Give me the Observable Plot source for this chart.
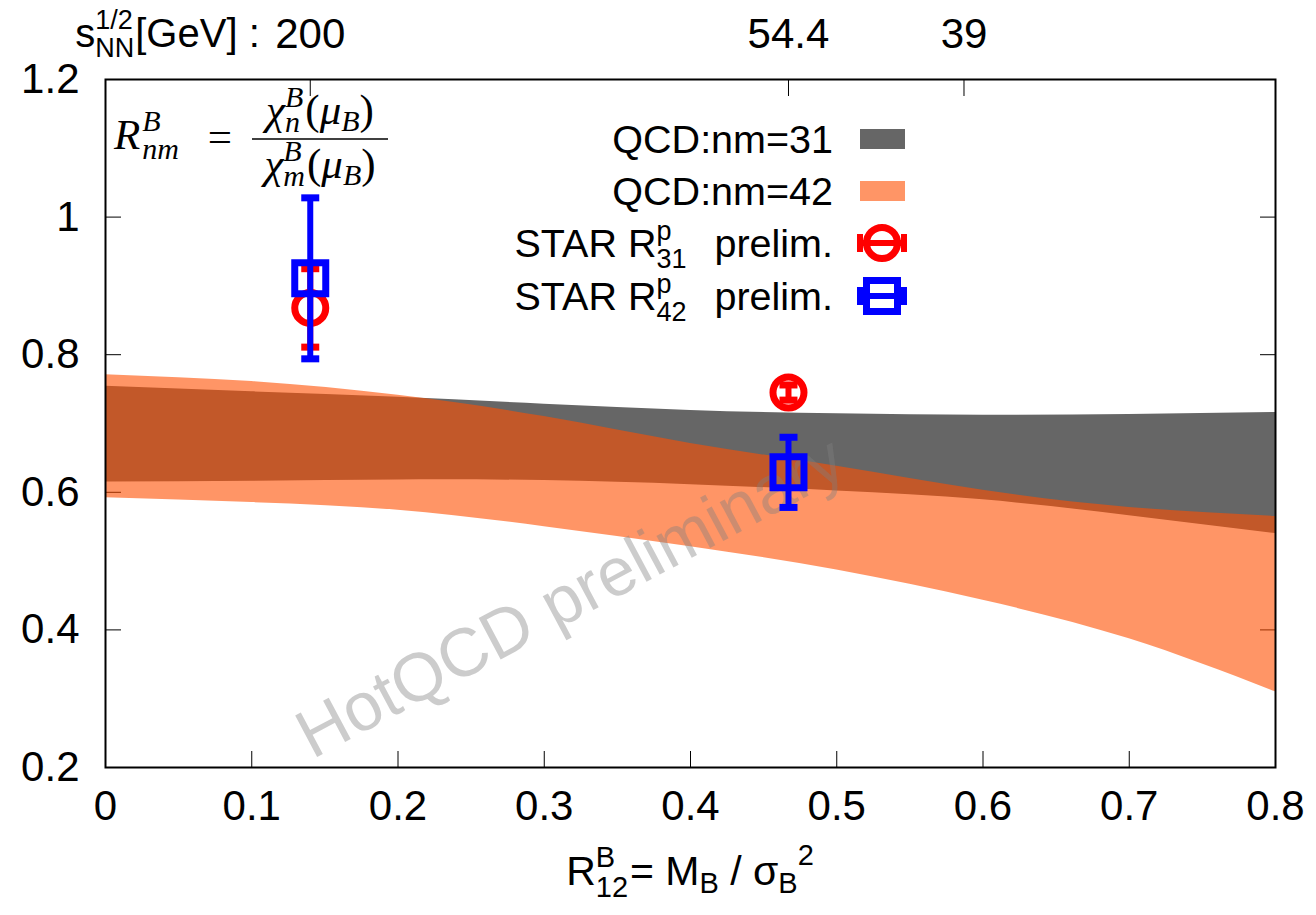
<!DOCTYPE html>
<html><head><meta charset="utf-8">
<script src="https://cdn.jsdelivr.net/npm/d3@7"></script>
<script src="https://cdn.jsdelivr.net/npm/@observablehq/plot@0.6"></script>
<style>body{margin:0;background:#fff} svg{display:block}</style>
</head><body><div id="chart"></div>
<script>
// ---------- data ----------
const bandX     = [0, 0.1, 0.2, 0.3, 0.4, 0.5, 0.6, 0.7, 0.8];
const nm31Upper = [0.754, 0.746, 0.738, 0.728, 0.719, 0.714, 0.712, 0.713, 0.716];
const nm31Lower = [0.615, 0.616, 0.618, 0.617, 0.611, 0.602, 0.589, 0.566, 0.540];
const nm42Upper = [0.771, 0.761, 0.741, 0.710, 0.671, 0.638, 0.603, 0.578, 0.565];
const nm42Lower = [0.592, 0.585, 0.574, 0.550, 0.521, 0.487, 0.443, 0.387, 0.310];

const starX      = [0.140, 0.467];
const starR31    = [0.868, 0.745];
const starR31Err = [0.057, 0.011];
const starR42    = [0.911, 0.629];
const starR42Err = [0.117, 0.051];

const xTicks   = [0, 0.1, 0.2, 0.3, 0.4, 0.5, 0.6, 0.7, 0.8];
const yTicks   = [0.2, 0.4, 0.6, 0.8, 1, 1.2];
const x2Ticks  = [0.140, 0.467, 0.587];
const x2Labels = ["200", "54.4", "39"];

const watermark = "HotQCD preliminary";

// ---------- tables ----------
const band31 = bandX.map((x, i) => ({x, lo: nm31Lower[i], hi: nm31Upper[i]}));
const band42 = bandX.map((x, i) => ({x, lo: nm42Lower[i], hi: nm42Upper[i]}));
const pts31 = starX.map((x, i) => ({x, y: starR31[i], lo: starR31[i] - starR31Err[i], hi: starR31[i] + starR31Err[i]}));
const pts42 = starX.map((x, i) => ({x, y: starR42[i], lo: starR42[i] - starR42Err[i], hi: starR42[i] + starR42Err[i]}));

const SANS = "'Liberation Sans', Arial, Helvetica, sans-serif";
const SERIF = "'Liberation Serif', 'Times New Roman', serif";
const GRAY = "#666666";
const ORANGE = "rgb(255,78,0)";
const ORANGE_OP = 0.6;
const RED = "#ff0000", BLUE = "#0000ff";

const capSym = {draw(ctx) { ctx.rect(-9, -3.5, 18, 7); }};
const sqSym = {draw(ctx) { ctx.rect(-15.5, -15.5, 31, 31); }};

const plot = Plot.plot({
  width: 1316, height: 915,
  marginLeft: 105, marginRight: 41, marginTop: 79, marginBottom: 148,
  style: {fontFamily: SANS, fontSize: "42px", background: "#fff", color: "#000"},
  x: {domain: [0, 0.8], axis: null},
  y: {domain: [0.2, 1.2], axis: null},
  marks: [
    Plot.axisY(yTicks, {anchor: "left", tickSize: -16, tickFormat: () => "", label: null}),
    Plot.axisY(yTicks, {anchor: "right", tickSize: -16, tickFormat: () => "", label: null}),
    Plot.axisX(xTicks, {anchor: "bottom", tickSize: -16, tickFormat: () => "", label: null}),
    Plot.axisX(x2Ticks, {anchor: "top", tickSize: -16, tickFormat: () => "", label: null}),
    Plot.areaY(band31, {x: "x", y1: "lo", y2: "hi", fill: GRAY, curve: "natural"}),
    Plot.areaY(band42, {x: "x", y1: "lo", y2: "hi", fill: ORANGE, fillOpacity: ORANGE_OP, curve: "natural"}),
    Plot.axisY(yTicks, {anchor: "left", tickSize: 0, tickPadding: 26, fontSize: 42, tickFormat: d => String(d), label: null}),
    Plot.axisX(xTicks, {anchor: "bottom", tickSize: 0, tickPadding: 23, fontSize: 42, tickFormat: d => String(d), label: null}),
    Plot.axisX(x2Ticks, {anchor: "top", tickSize: 0, tickPadding: 32, fontSize: 42, tickFormat: d => x2Labels[x2Ticks.indexOf(d)], label: null}),
    Plot.text([watermark], {x: () => 0.318, y: () => 0.447, text: d => d, rotate: -28, fontSize: 68, fill: "#7f7f7f", fillOpacity: 0.4}),
    // STAR R31
    Plot.ruleX(pts31, {x: "x", y1: "lo", y2: "hi", stroke: RED, strokeWidth: 6}),
    Plot.dot(pts31, {x: "x", y: "lo", symbol: capSym, fill: RED}),
    Plot.dot(pts31, {x: "x", y: "hi", symbol: capSym, fill: RED}),
    Plot.dot(pts31, {x: "x", y: "y", r: 15.5, stroke: RED, strokeWidth: 7, fill: "none"}),
    // STAR R42
    Plot.ruleX(pts42, {x: "x", y1: "lo", y2: "hi", stroke: BLUE, strokeWidth: 6}),
    Plot.dot(pts42, {x: "x", y: "lo", symbol: capSym, fill: BLUE}),
    Plot.dot(pts42, {x: "x", y: "hi", symbol: capSym, fill: BLUE}),
    Plot.dot(pts42, {x: "x", y: "y", symbol: sqSym, stroke: BLUE, strokeWidth: 7, fill: "none"}),
    Plot.frame({stroke: "#000", strokeWidth: 2})
  ]
});
document.getElementById("chart").appendChild(plot);

// ---------- rich text helper ----------
function rich(parent, x, y, parts, attrs) {
  const t = parent.append("text").attr("x", x).attr("y", y).attr("text-anchor", "start");
  for (const [k, v] of Object.entries(attrs || {})) t.attr(k, v);
  let level = 0, prevW = 0, pending = 0;
  for (const p of parts) {
    const target = p.shift || 0;
    const ts = t.append("tspan").text(p.t);
    if (target - level) ts.attr("dy", target - level);
    level = target;
    if (p.size) ts.attr("font-size", p.size);
    if (p.style) ts.attr("font-style", p.style);
    let dx = (p.dx || 0) + (p.stack ? 0 : pending);
    if (p.stack) dx -= prevW;
    if (dx) ts.attr("dx", dx);
    const w = ts.node().getComputedTextLength();
    pending = p.stack ? Math.max(0, prevW - w) : 0;
    prevW = w;
  }
  return t;
}

const svg = d3.select(plot);
const xs = plot.scale("x");
const g = svg.append("g");

// top-left prefix of the top axis
rich(g, xs.apply(x2Ticks[0]) - 50, 47, [
  {t: "s", size: 40},
  {t: "1/2", size: 27, shift: -18},
  {t: "NN", size: 27, shift: 10, stack: true},
  {t: "[GeV] :", size: 40, dx: 1}
], {"text-anchor": "end", "font-family": SANS, fill: "#000"});

// x axis title
rich(g, 690, 885, [
  {t: "R", size: 41},
  {t: "B", size: 29, shift: -18},
  {t: "12", size: 29, shift: 12, stack: true},
  {t: "= M", size: 41, dx: 2},
  {t: "B", size: 29, shift: 8},
  {t: " / σ", size: 41},
  {t: "B", size: 29, shift: 8},
  {t: "2", size: 29, shift: -20}
], {"text-anchor": "middle", "font-family": SANS, fill: "#000"});

// formula
rich(g, 114, 149, [
  {t: "R", size: 43, style: "italic"},
  {t: "B", size: 30, style: "italic", shift: -18, dx: 2},
  {t: "nm", size: 30, style: "italic", shift: 10, stack: true}
], {"font-family": SERIF, fill: "#000"});
g.append("text").attr("x", 220).attr("y", 151).attr("text-anchor", "middle")
  .attr("font-family", SERIF).attr("font-size", 43).attr("fill", "#000").text("=");
g.append("line").attr("x1", 252).attr("x2", 388).attr("y1", 139).attr("y2", 139)
  .attr("stroke", "#000").attr("stroke-width", 1.6);
function chiParts(sub) {
  return [
    {t: "χ", size: 43, style: "italic"},
    {t: "B", size: 30, style: "italic", shift: -17},
    {t: sub, size: 30, style: "italic", shift: 8, stack: true},
    {t: "(", size: 43, dx: 2},
    {t: "μ", size: 43, style: "italic"},
    {t: "B", size: 30, style: "italic", shift: 7},
    {t: ")", size: 43}
  ];
}
rich(g, 320, 124, chiParts("n"), {"text-anchor": "middle", "font-family": SERIF, fill: "#000"});
rich(g, 320, 178, chiParts("m"), {"text-anchor": "middle", "font-family": SERIF, fill: "#000"});

// ---------- legend ----------
const lg = svg.append("g");
const legTextX = 833, symX = 882;
const legRows = [
  {kind: "band", fill: GRAY, op: 1, label: [{t: "QCD:nm=31"}], y: 153},
  {kind: "band", fill: ORANGE, op: ORANGE_OP, label: [{t: "QCD:nm=42"}], y: 205},
  {kind: "circle", color: RED, label: [{t: "STAR R"}, {t: "p", size: 27, shift: -17}, {t: "31", size: 27, shift: 11, stack: true}, {t: "prelim.", dx: 28}], y: 257},
  {kind: "square", color: BLUE, label: [{t: "STAR R"}, {t: "p", size: 27, shift: -17}, {t: "42", size: 27, shift: 11, stack: true}, {t: "prelim.", dx: 28}], y: 310}
];
for (const r of legRows) {
  rich(lg, legTextX, r.y, r.label.map(p => ({size: 39.5, ...p})), {"text-anchor": "end", "font-family": SANS, fill: "#000"});
  const cy = r.y - 14;
  if (r.kind === "band") {
    lg.append("rect").attr("x", 860).attr("y", cy - 10).attr("width", 45).attr("height", 20)
      .attr("fill", r.fill).attr("fill-opacity", r.op);
  } else {
    lg.append("line").attr("x1", 860).attr("x2", 904).attr("y1", cy).attr("y2", cy)
      .attr("stroke", r.color).attr("stroke-width", 6);
    for (const cx of [860, 904]) lg.append("rect").attr("x", cx - 3).attr("y", cy - 9).attr("width", 6).attr("height", 18).attr("fill", r.color);
    if (r.kind === "circle") lg.append("circle").attr("cx", symX).attr("cy", cy).attr("r", 15.5).attr("fill", "none").attr("stroke", r.color).attr("stroke-width", 7);
    else lg.append("rect").attr("x", symX - 15.5).attr("y", cy - 15.5).attr("width", 31).attr("height", 31).attr("fill", "none").attr("stroke", r.color).attr("stroke-width", 7);
  }
}
</script></body></html>
